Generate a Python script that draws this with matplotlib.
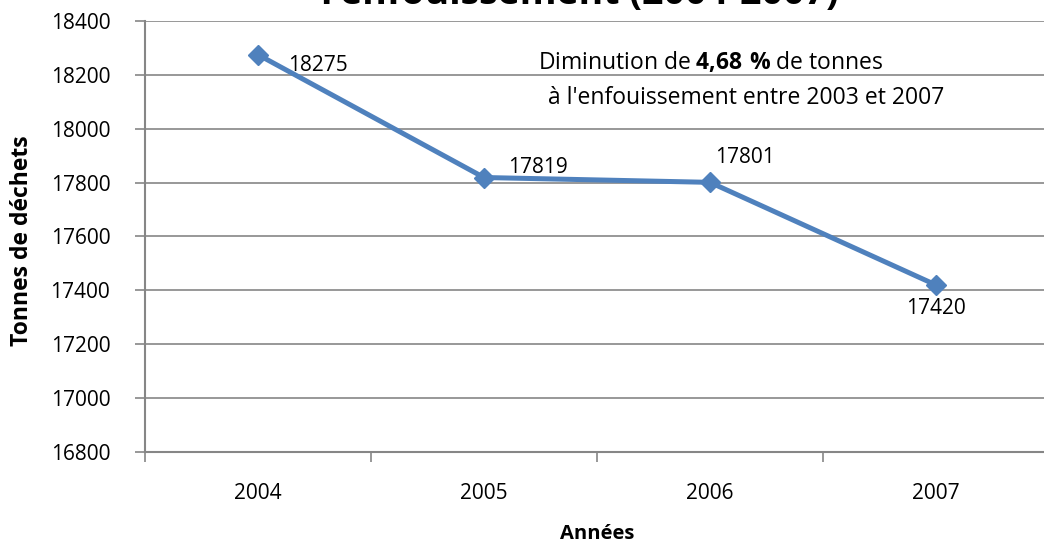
import numpy as np
import matplotlib.pyplot as plt

# données
annees = ["2004", "2005", "2006", "2007"]
tonnes = [18275, 17819, 17801, 17420]
y_ticks = [16800, 17000, 17200, 17400, 17600, 17800, 18000, 18200, 18400]
# décalage des étiquettes (points)
lbl_offsets = [(22, -8), (17, 7), (25, 18), (0, -17)]
lbl_ha = ["left", "left", "center", "center"]

plt.rcParams['font.family'] = ['Open Sans', 'DejaVu Sans']
plt.rcParams['mathtext.fontset'] = 'custom'
plt.rcParams['mathtext.rm'] = 'Open Sans'
plt.rcParams['mathtext.bf'] = 'Open Sans:bold'

W, H = 1044, 546
fig = plt.figure(figsize=(W / 100, H / 100), dpi=100)
# zone de tracé en pixels : gauche 145, droite 1049, haut 21, bas 452
ax = fig.add_axes([145 / W, (H - 452) / H, (1049 - 145) / W, (452 - 21) / H])

x = np.arange(len(annees))
ax.plot(x, tonnes, color="#4F81BD", lw=3.6, marker="D", ms=10, zorder=3)

for i, v in enumerate(tonnes):
    ax.annotate(str(v), (x[i], v), xytext=lbl_offsets[i], textcoords="offset points",
                ha=lbl_ha[i], va="center", fontsize=15, color="black")

ax.set_xlim(-0.5, 3.5)
ax.set_ylim(16800, 18400)
ax.set_yticks(y_ticks)
ax.set_xticks(x)
ax.set_xticklabels(annees)
ax.set_xticks(np.arange(-0.5, 4.0, 1.0), minor=True)
ax.tick_params(axis="x", which="major", length=0, pad=22, labelsize=15)
ax.tick_params(axis="x", which="minor", length=7, color="#868686", width=1.2)
ax.tick_params(axis="y", length=7, color="#868686", width=1.2, pad=18, labelsize=15)
ax.grid(axis="y", color="#868686", lw=1.2)
ax.set_axisbelow(True)
for s in ["top", "right"]:
    ax.spines[s].set_visible(False)
for s in ["left", "bottom"]:
    ax.spines[s].set_color("#868686")
    ax.spines[s].set_linewidth(1.5)

# titres
fig.text(22 / W, 1 - 241 / H, "Tonnes de déchets", rotation=90, ha="center", va="center",
         fontsize=16.5, fontweight="bold")
fig.text(597 / W, 1 - 534 / H, "Années", ha="center", va="center", fontsize=14.5, fontweight="bold")
fig.text(580 / W, 1 - 13 / H, "Tonnes de déchets à\nl'enfouissement (2004-2007)",
         ha="center", va="bottom", fontsize=27, fontweight="bold", linespacing=1.0)

# encadré de texte
fig.text(538 / W, 1 - 62 / H, r"Diminution de $\mathbf{4{,}68\ \%}$ de tonnes",
         ha="left", va="center", fontsize=16.5)
fig.text(548 / W, 1 - 98 / H, "à l'enfouissement entre 2003 et 2007",
         ha="left", va="center", fontsize=16.5)

fig.savefig("out.png", dpi=100)
